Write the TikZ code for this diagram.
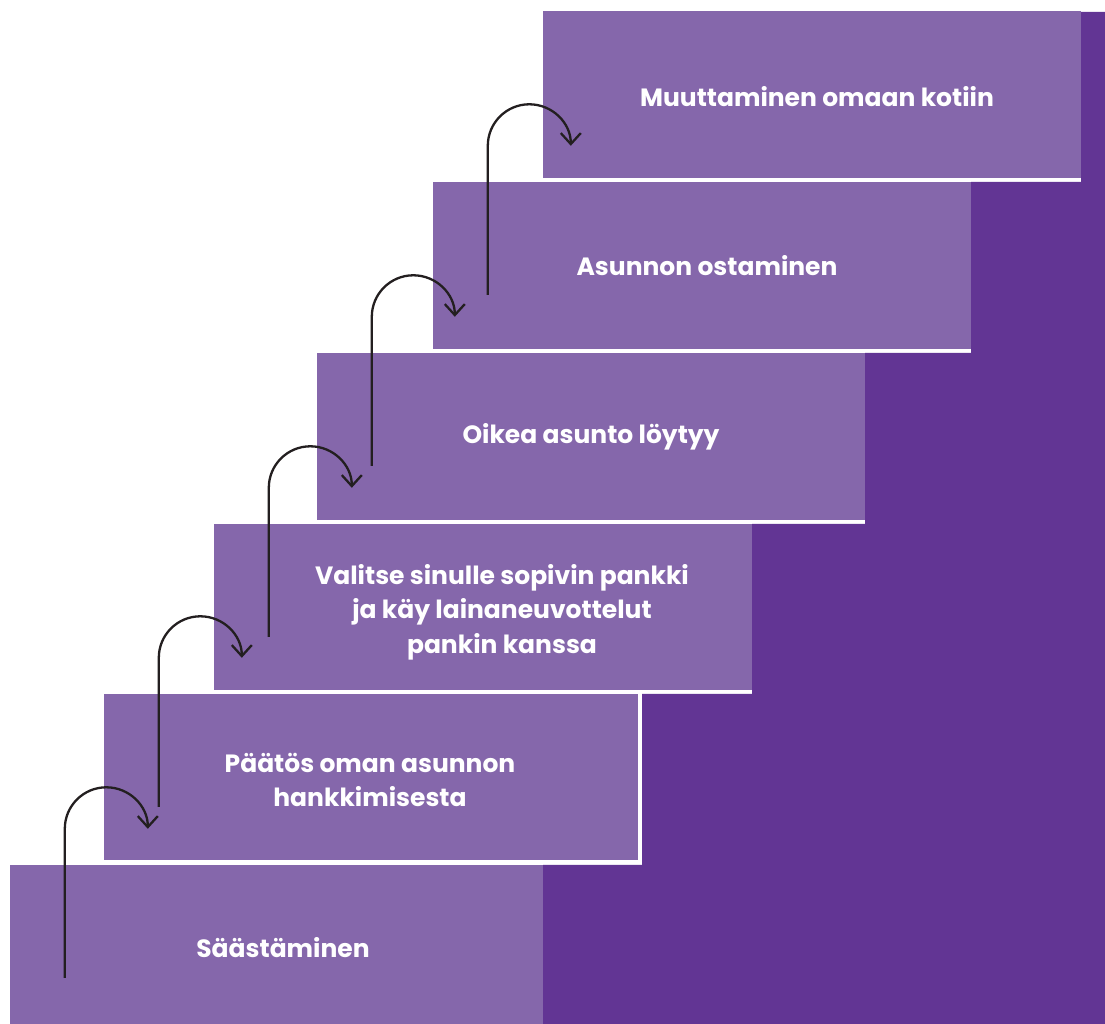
\documentclass[tikz,border=0pt]{standalone}
\usepackage{fontspec}
\setmainfont{Poppins}
\usepackage{xcolor}
\usetikzlibrary{positioning, arrows.meta, calc}
\definecolor{stepcolor}{HTML}{8567AB}
\definecolor{wallcolor}{HTML}{623594}
\definecolor{arrowcolor}{HTML}{231F20}

\begin{document}
\begin{tikzpicture}[
    x=1pt, y=1pt,
    % Node styles
    stepbox/.style={
        rectangle, inner sep=0pt, fill=stepcolor,
        minimum height=166pt
    },
    steptext/.style={
        font=\bfseries\fontsize{25}{34.5}\selectfont,
        text=white, align=center
    },
    % Edge styles
    steparrow/.style={
        -{Straight Barb[length=11pt, width=20pt, line width=2.3pt]},
        line width=2.3pt, arrowcolor
    }
]
\useasboundingbox (0,0) rectangle (1105,1024);

% ============ BACK WALL ============
\fill[wallcolor] (543,0) -- (543,159) -- (642,159) -- (642,330)
    -- (752,330) -- (752,500) -- (865,500) -- (865,671)
    -- (971,671) -- (971,842) -- (1081,842) -- (1081,1012)
    -- (1105,1012) -- (1105,0) -- cycle;

% ============ STEPS ============
\node[stepbox, minimum width=533pt, minimum height=159pt] (s1) at (276.5, 79.5) {};
\node[stepbox, minimum width=534pt] (s2) at (371, 247) {};
\node[stepbox, minimum width=538pt] (s3) at (483, 417) {};
\node[stepbox, minimum width=548pt, minimum height=167pt] (s4) at (591, 587.5) {};
\node[stepbox, minimum width=538pt, minimum height=167pt] (s5) at (702, 758.5) {};
\node[stepbox, minimum width=538pt, minimum height=167pt] (s6) at (812, 929.5) {};

% ============ LABELS ============
\node[steptext] (t1) at (283, 76) {Säästäminen};
\node[steptext] (t2) at (370, 244) {Päätös oman asunnon\\hankkimisesta};
\node[steptext] (t3) at (502, 412) {Valitse sinulle sopivin pankki\\ja käy lainaneuvottelut\\pankin kanssa};
\node[steptext] (t4) at (591, 587) {Oikea asunto löytyy};
\node[steptext] (t5) at (707, 758) {Asunnon ostaminen};
\node[steptext] (t6) at (817, 927) {Muuttaminen omaan kotiin};

% ============ ARROWS ============
\foreach \i in {1,...,5} {
    \coordinate (a\i) at ($(s\i.north west)+(55,-113)$);
    \draw[steparrow] (a\i) -- ++(0,149) arc[start angle=180, end angle=0, radius=41.5];
}

\end{tikzpicture}
\end{document}
